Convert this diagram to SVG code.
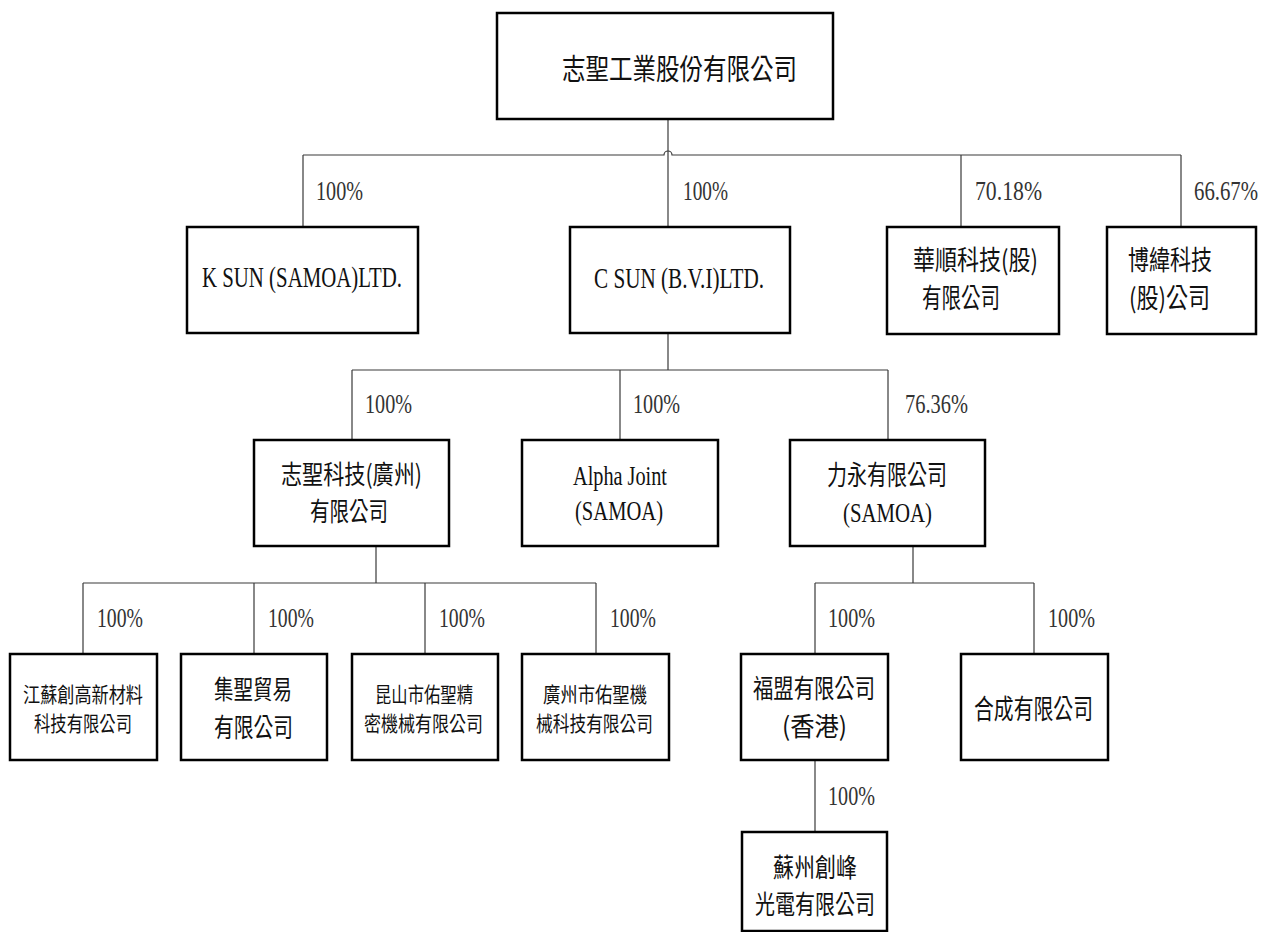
<svg xmlns="http://www.w3.org/2000/svg" width="1264" height="932" viewBox="0 0 1264 932">
<style>
.box{fill:#fff;stroke:#000;stroke-width:2.5}
.ln{fill:none;stroke:#3a3a3a;stroke-width:1.2}
.cj{font-family:"Noto Sans CJK TC","Noto Sans CJK SC",sans-serif;font-size:27px;fill:#111}
.cjm{font-family:"Noto Sans CJK TC","Noto Sans CJK SC",sans-serif;font-size:26px;fill:#111}
.cjs{font-family:"Noto Sans CJK TC","Noto Sans CJK SC",sans-serif;font-size:21px;fill:#111}
.cjt{font-family:"Noto Sans CJK TC","Noto Sans CJK SC",sans-serif;font-size:29px;fill:#111}
.lt{font-family:"Liberation Serif",serif;font-size:30px;fill:#111}
.pc{font-family:"Liberation Serif",serif;font-size:27px;fill:#333}
.nt{font-family:"Liberation Serif",serif;font-size:27px;fill:#111}
</style>
<rect width="1264" height="932" fill="#fff"/>
<g id="connectors">
<path class="ln" d="M668,119 V227"/>
<path class="ln" d="M303,155 H664 A4,4 0 0 1 672,155 H1181"/>
<path class="ln" d="M303,155 V227 M961,155 V227 M1181,155 V227"/>
<path class="ln" d="M668,333 V370 M352,370 H888 M352,370 V440 M620,370 V440 M888,370 V440"/>
<path class="ln" d="M376,546 V583 M83,583 H596 M83,583 V654 M254,583 V654 M425,583 V654 M596,583 V654"/>
<path class="ln" d="M913,546 V583 M815,583 H1034 M815,583 V654 M1034,583 V654"/>
<path class="ln" d="M815,760 V832"/>
</g>
<g id="labels">
<text class="pc" x="316" y="200" textLength="47" lengthAdjust="spacingAndGlyphs">100%</text>
<text class="pc" x="683" y="200" textLength="45" lengthAdjust="spacingAndGlyphs">100%</text>
<text class="pc" x="975" y="200" textLength="67" lengthAdjust="spacingAndGlyphs">70.18%</text>
<text class="pc" transform="translate(1194,200) scale(0.77,1)" x="0" y="0">66.67%</text>
<text class="pc" x="365" y="413" textLength="47" lengthAdjust="spacingAndGlyphs">100%</text>
<text class="pc" x="633" y="413" textLength="47" lengthAdjust="spacingAndGlyphs">100%</text>
<text class="pc" x="905" y="413" textLength="63" lengthAdjust="spacingAndGlyphs">76.36%</text>
<text class="pc" x="97" y="627" textLength="46" lengthAdjust="spacingAndGlyphs">100%</text>
<text class="pc" x="268" y="627" textLength="46" lengthAdjust="spacingAndGlyphs">100%</text>
<text class="pc" x="439" y="627" textLength="46" lengthAdjust="spacingAndGlyphs">100%</text>
<text class="pc" x="610" y="627" textLength="46" lengthAdjust="spacingAndGlyphs">100%</text>
<text class="pc" x="828" y="627" textLength="47" lengthAdjust="spacingAndGlyphs">100%</text>
<text class="pc" x="1048" y="627" textLength="47" lengthAdjust="spacingAndGlyphs">100%</text>
<text class="pc" x="828" y="805" textLength="47" lengthAdjust="spacingAndGlyphs">100%</text>
</g>
<g id="n-top">
<rect class="box" x="497" y="13" width="336" height="106"/>
<text class="cjt" x="562" y="80" textLength="235" lengthAdjust="spacingAndGlyphs">志聖工業股份有限公司</text>
</g>
<g id="n-ksun">
<rect class="box" x="187" y="227" width="231" height="106"/>
<text class="lt" x="202" y="287" textLength="200" lengthAdjust="spacingAndGlyphs">K SUN (SAMOA)LTD.</text>
</g>
<g id="n-csun">
<rect class="box" x="570" y="227" width="220" height="106"/>
<text class="lt" x="594" y="288" textLength="170" lengthAdjust="spacingAndGlyphs">C SUN (B.V.I)LTD.</text>
</g>
<g id="n-huashun">
<rect class="box" x="887" y="227" width="172" height="107"/>
<text class="cj" x="913" y="270" textLength="125" lengthAdjust="spacingAndGlyphs">華順科技(股)</text>
<text class="cj" x="922" y="308" textLength="78" lengthAdjust="spacingAndGlyphs">有限公司</text>
</g>
<g id="n-bowei">
<rect class="box" x="1107" y="227" width="149" height="107"/>
<text class="cj" x="1128" y="270" textLength="84" lengthAdjust="spacingAndGlyphs">博緯科技</text>
<text class="cj" x="1129" y="308" textLength="81" lengthAdjust="spacingAndGlyphs">(股)公司</text>
</g>
<g id="n-gz">
<rect class="box" x="254" y="440" width="195" height="106"/>
<text class="cjm" x="281" y="484" textLength="141" lengthAdjust="spacingAndGlyphs">志聖科技(廣州)</text>
<text class="cjm" x="310" y="521" textLength="78" lengthAdjust="spacingAndGlyphs">有限公司</text>
</g>
<g id="n-alpha">
<rect class="box" x="522" y="440" width="196" height="106"/>
<text class="nt" x="573" y="485" textLength="94" lengthAdjust="spacingAndGlyphs">Alpha Joint</text>
<text class="nt" x="575" y="520" textLength="88" lengthAdjust="spacingAndGlyphs">(SAMOA)</text>
</g>
<g id="n-liyong">
<rect class="box" x="790" y="440" width="195" height="106"/>
<text class="cj" x="827" y="485" textLength="120" lengthAdjust="spacingAndGlyphs">力永有限公司</text>
<text class="nt" x="843" y="522" textLength="89" lengthAdjust="spacingAndGlyphs">(SAMOA)</text>
</g>
<g id="n-jiangsu">
<rect class="box" x="10" y="654" width="147" height="106"/>
<text class="cjs" x="23" y="702" textLength="120" lengthAdjust="spacingAndGlyphs">江蘇創高新材料</text>
<text class="cjs" x="34" y="731" textLength="98" lengthAdjust="spacingAndGlyphs">科技有限公司</text>
</g>
<g id="n-jisheng">
<rect class="box" x="181" y="654" width="146" height="106"/>
<text class="cjm" x="214" y="699" textLength="78" lengthAdjust="spacingAndGlyphs">集聖貿易</text>
<text class="cjm" x="214" y="737" textLength="79" lengthAdjust="spacingAndGlyphs">有限公司</text>
</g>
<g id="n-kunshan">
<rect class="box" x="352" y="654" width="146" height="106"/>
<text class="cjs" x="375" y="702" textLength="98" lengthAdjust="spacingAndGlyphs">昆山市佑聖精</text>
<text class="cjs" x="364" y="731" textLength="119" lengthAdjust="spacingAndGlyphs">密機械有限公司</text>
</g>
<g id="n-gzys">
<rect class="box" x="522" y="654" width="147" height="106"/>
<text class="cjs" x="543" y="702" textLength="104" lengthAdjust="spacingAndGlyphs">廣州市佑聖機</text>
<text class="cjs" x="536" y="731" textLength="117" lengthAdjust="spacingAndGlyphs">械科技有限公司</text>
</g>
<g id="n-fumeng">
<rect class="box" x="741" y="654" width="147" height="106"/>
<text class="cjm" x="753" y="698" textLength="122" lengthAdjust="spacingAndGlyphs">福盟有限公司</text>
<text class="cjm" x="782" y="736" textLength="65" lengthAdjust="spacingAndGlyphs">(香港)</text>
</g>
<g id="n-hecheng">
<rect class="box" x="961" y="654" width="147" height="106"/>
<text class="cj" x="974" y="719" textLength="119" lengthAdjust="spacingAndGlyphs">合成有限公司</text>
</g>
<g id="n-suzhou">
<rect class="box" x="742" y="832" width="145" height="99"/>
<text class="cjm" x="773" y="877" textLength="84" lengthAdjust="spacingAndGlyphs">蘇州創峰</text>
<text class="cjm" x="755" y="914" textLength="120" lengthAdjust="spacingAndGlyphs">光電有限公司</text>
</g>
</svg>
